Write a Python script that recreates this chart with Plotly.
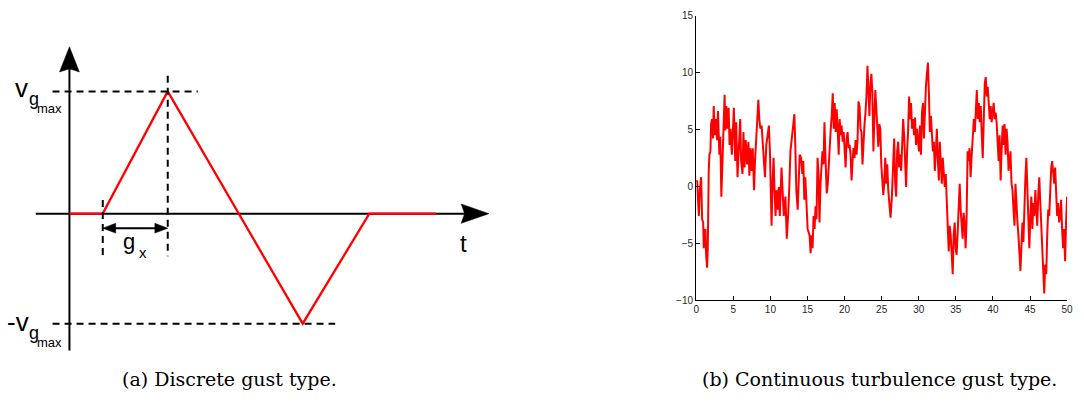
import plotly.graph_objects as go

# ---------------- data ----------------
# (a) discrete gust: time (arbitrary units) and gust velocity (fraction of v_gmax)
gust_t = [0, 1, 2.95, 7, 9, 11]
gust_v = [0, 0, 1, -0.9, 0, 0]

# (b) continuous turbulence
turb_t = [
    0.0, 0.13, 0.27, 0.36, 0.49, 0.58, 0.67, 0.8, 0.94, 1.02, 1.11, 1.25, 1.34, 1.47, 1.56, 1.6,
    1.69, 1.78, 1.92, 2.01, 2.14, 2.27, 2.36, 2.5, 2.67, 2.81, 2.94, 3.12, 3.25, 3.39, 3.57, 3.7,
    3.83, 3.92, 4.06, 4.19, 4.37, 4.5, 4.63, 4.81, 4.95, 5.08, 5.26, 5.39, 5.57, 5.7, 5.93, 6.06,
    6.24, 6.37, 6.51, 6.68, 6.86, 7.04, 7.17, 7.31, 7.49, 7.62, 7.8, 7.93, 8.16, 8.38, 8.51, 8.65,
    8.82, 9.0, 9.14, 9.27, 9.45, 9.63, 9.8, 9.94, 10.07, 10.16, 10.29, 10.43, 10.56, 10.7, 10.83,
    10.96, 11.14, 11.27, 11.5, 11.63, 11.81, 12.03, 12.21, 12.39,
    12.43, 12.57, 12.7, 12.88, 13.06, 13.24, 13.37, 13.5, 13.68, 13.82, 13.95, 14.13, 14.31, 14.44,
    14.57, 14.71, 14.84, 15.02, 15.15, 15.29, 15.42, 15.55, 15.69, 15.82, 15.96, 16.09, 16.22,
    16.36, 16.49, 16.62, 16.76, 16.89, 17.02, 17.16, 17.29, 17.43, 17.6, 17.74, 17.87, 18.01,
    18.14, 18.27, 18.41, 18.54, 18.67, 18.81, 18.94, 19.07, 19.21, 19.34, 19.48, 19.61, 19.74,
    19.88, 20.01, 20.14, 20.28, 20.41, 20.55, 20.68, 20.81, 20.95, 21.08, 21.21, 21.35, 21.48,
    21.61, 21.75, 21.88, 22.02, 22.15, 22.28, 22.42, 22.55, 22.68, 22.82, 22.95, 23.09, 23.22,
    23.35, 23.49, 23.62, 23.75, 23.89, 24.02, 24.15, 24.29, 24.47,
    24.55, 24.69, 24.82, 24.95, 25.09, 25.22, 25.35, 25.49, 25.62, 25.76, 25.89, 26.02, 26.2,
    26.38, 26.56, 26.69, 26.83, 26.96, 27.09, 27.23, 27.36, 27.49, 27.63, 27.76, 27.9, 28.03,
    28.16, 28.3, 28.43, 28.56, 28.7, 28.83, 28.96, 29.1, 29.23, 29.37, 29.5, 29.63, 29.77, 29.9,
    30.03, 30.17, 30.3, 30.44, 30.57, 30.7, 30.84, 30.97, 31.1, 31.24, 31.37, 31.5, 31.64, 31.77,
    31.91, 32.04, 32.17, 32.31, 32.44, 32.57, 32.71, 32.84, 32.98, 33.11, 33.24, 33.38, 33.51,
    33.64, 33.78, 33.91, 34.04, 34.18, 34.31, 34.45, 34.58, 34.71, 34.85, 34.98, 35.11, 35.25,
    35.38, 35.52, 35.65, 35.78, 35.92, 36.05, 36.18, 36.32, 36.45, 36.59, 36.72, 36.85, 36.99,
    37.12, 37.25,
    37.43, 37.56, 37.7, 37.83, 37.96, 38.1, 38.23, 38.36, 38.5, 38.63, 38.77, 38.9, 39.03, 39.17,
    39.3, 39.43, 39.57, 39.7, 39.83, 39.97, 40.1, 40.24, 40.37, 40.5, 40.64, 40.77, 40.9, 41.04,
    41.17, 41.31, 41.44, 41.57, 41.71, 41.84, 41.97, 42.11, 42.24, 42.37, 42.51, 42.64, 42.78,
    42.91, 43.04, 43.18, 43.31, 43.44, 43.58, 43.71, 43.85, 43.98, 44.11, 44.25, 44.38, 44.51,
    44.65, 44.78, 44.91, 45.05, 45.18, 45.32, 45.45, 45.58, 45.72, 45.85, 45.98, 46.12, 46.25,
    46.39, 46.52, 46.65, 46.79, 46.92, 47.05, 47.19, 47.32, 47.46, 47.59, 47.72, 47.86, 47.99,
    48.12, 48.26, 48.39, 48.53, 48.66, 48.79, 48.93, 49.06, 49.19, 49.33, 49.46, 49.59, 49.73,
    49.86, 50.0,
]
turb_v = [
    0.37, 0.51, -1.48, -2.61, -0.34, 0.65, 0.8, -2.9, -3.18, -5.45, -4.32, -3.75, -6.02, -7.16, -5.45, -2.05,
    1.36, 2.78, 3.07, 5.48, 5.91, 4.2, 7.05, 4.49, 5.91, 4.06, 6.62, 2.78, 4.35, -0.91, 3.07, 4.49,
    8.04, 4.91, 7.05, 5.06, 6.9, 3.64, 5.06, 2.78, 4.49, 6.9, 2.22, 5.63, 0.8, 3.35, 5.91, 2.22,
    1.08, 4.77, 1.65, 4.06, 1.93, 3.92, 0.94, 3.35, 1.36, 3.35, -0.34, 2.22, 5.06, 7.61, 5.91, 5.06,
    5.34, 3.07, 2.22, 0.8, 3.64, 4.49, 5.34, 3.07, 0.23, -3.47, 0.23, 2.5, -0.34, -2.61, -0.34,
    -2.05, -0.06, -2.61, 1.65, -0.06, -2.61, -0.91, -4.6, -2.61,
    -1.48, 0.23, 3.07, 4.2, 5.06, 6.34, 3.35, -0.34, -2.05, 0.8, 2.78, 2.5, 1.08, 2.22,
    -1.19, 0.8, -1.76, -3.75, -4.03, -4.32, -5.88, -4.32, -5.45, -2.61, -3.75, -1.76, -2.9,
    2.5, 1.08, -3.18, 0.23, 1.36, 3.07, 1.93, 5.63, 2.5, -0.63, 0.23, 1.93, 4.2,
    5.06, 6.19, 8.18, 5.06, 7.33, 4.77, 6.76, 5.06, 2.78, 5.91, 4.49, 5.34, 3.92,
    4.77, 3.35, 1.65, 4.2, 4.77, 3.35, 3.64, 2.78, 0.51, 2.22, 3.35, 2.5, 4.06,
    2.78, 3.92, 7.47, 7.05, 5.06, 4.77, 1.93, 4.2, 5.34, 6.48, 7.9, 10.6, 7.61,
    6.19, 9.03, 9.89, 8.18, 3.07, 5.91, 8.47, 6.76, 4.49,
    3.49, 5.48, 5.06, 1.93, 0.8, -0.77, 0.23, 2.5, 0.23, 1.93, -0.34, -1.19, -2.76,
    -0.91, 3.07, 4.2, 0.23, -0.91, 3.07, 3.92, 1.65, 2.78, 1.36, 4.77, 5.91, 4.49,
    2.22, -0.06, 3.07, 4.77, 7.9, 5.91, 7.33, 5.06, 5.91, 4.49, 6.05, 3.64, 5.06, 3.92,
    3.07, 5.34, 2.78, 6.48, 7.33, 4.2, 7.61, 8.75, 9.89, 10.88, 8.18, 4.77, 6.19, 4.49,
    3.07, 3.92, 1.36, 3.07, 5.06, 2.5, 0.51, 3.92, 1.65, 0.23, 2.5, 1.36, -0.06,
    1.08, -1.76, -3.75, -5.74, -3.47, -4.32, -6.02, -7.73, -4.32, -3.18, -5.45, -6.02, -4.03,
    -1.48, 0.23, -2.05, -3.75, -4.6, -2.33, -3.18, -5.45, -2.9, 3.07, 2.22, 3.35, 0.8,
    2.5, 4.2,
    5.91, 4.77, 6.48, 8.47, 5.91, 7.33, 5.63, 7.05, 4.49, 2.5, 5.91, 9.03, 9.6, 7.9,
    8.75, 6.76, 5.91, 7.05, 5.63, 6.48, 7.33, 5.91, 6.48, 5.63, 3.64, 2.22, 4.49, 0.51,
    3.07, 5.34, 3.64, 5.48, 2.78, 5.06, 3.92, 1.36, 2.22, 3.07, 0.23, -0.34, -2.05,
    -3.47, 0.23, -2.05, -3.18, -4.32, -6.59, -7.44, -5.17, -3.18, -4.89, -0.91, 0.8, 2.5,
    -0.34, -3.18, -5.45, -2.61, -0.91, -3.75, -1.48, -2.61, -0.34, -2.05, -3.47, -0.63, 0.8,
    -1.48, -3.75, -6.02, -7.16, -9.43, -6.88, -7.73, -4.32, -2.05, -2.61, -0.34, 1.65, 2.22,
    0.8, 0.23, 1.65, -1.19, -2.61, -1.48, -3.18, -2.61, -1.19, -3.75, -5.45, -3.75, -6.59,
    -3.18, -0.91,
]

x_ticks = [0, 5, 10, 15, 20, 25, 30, 35, 40, 45, 50]
y_ticks = [-10, -5, 0, 5, 10, 15]
caption_a = "(a) Discrete gust type."
caption_b = "(b) Continuous turbulence gust type."

# ---------------- figure ----------------
W, H = 1084, 405
fig = go.Figure()

RED = "#ff0000"
BLACK = "#000000"

# left schematic (axes x2/y2, in schematic units)
fig.add_trace(go.Scatter(x=gust_t, y=gust_v, mode="lines", xaxis="x2", yaxis="y2",
                         line=dict(color=RED, width=2.3), hoverinfo="skip", showlegend=False))

# right turbulence
fig.add_trace(go.Scatter(x=turb_t, y=turb_v, mode="lines", xaxis="x", yaxis="y",
                         line=dict(color=RED, width=2.0), hoverinfo="skip", showlegend=False))

shapes = []
def line_shape(x0, y0, x1, y1, dash="solid", width=2.0, layer="below"):
    shapes.append(dict(type="line", xref="x2", yref="y2", x0=x0, y0=y0, x1=x1, y1=y1,
                       line=dict(color=BLACK, width=width, dash=dash), layer=layer))

def path_shape(pts, layer="above"):
    d = "M " + " L ".join(f"{x},{y}" for x, y in pts) + " Z"
    shapes.append(dict(type="path", xref="x2", yref="y2", path=d,
                       fillcolor=BLACK, line=dict(color=BLACK, width=0.5), layer=layer))

# axis lines of the schematic
line_shape(0, -1.119, 0, 1.19)
line_shape(-1.012, 0, 11.88, 0)
# arrow heads
path_shape([(0, 1.365), (0.298, 1.159), (0, 1.185), (-0.298, 1.159)])
path_shape([(12.589, 0), (11.756, 0.079), (11.86, 0), (11.756, -0.079)])

# dashed guides
dash = "7px,5px"
line_shape(-0.506, 1, 3.85, 1, dash=dash, layer="above")
line_shape(-0.506, -0.9, 7.976, -0.9, dash=dash, layer="above")
line_shape(2.95, 1.127, 2.95, -0.349, dash=dash, layer="above")
line_shape(1, 0.111, 1, -0.349, dash=dash, layer="above")

# g_x double arrow
gy = -0.119
line_shape(1.3, gy, 2.65, gy, layer="above")
path_shape([(1, gy), (1.387, gy + 0.04), (1.387, gy - 0.04)])
path_shape([(2.95, gy), (2.563, gy + 0.04), (2.563, gy - 0.04)])

annotations = []
def txt(x, y, s, size, xanchor="center", yanchor="middle"):
    annotations.append(dict(x=x, y=y, xref="x2", yref="y2", text=s, showarrow=False,
                            xanchor=xanchor, yanchor=yanchor,
                            font=dict(family="Liberation Sans", size=size, color=BLACK)))

txt(11.815, -0.245, "t", 24)
txt(1.8, -0.225, "g", 22)
txt(2.22, -0.32, "x", 15)
txt(-1.44, 1.03, "v", 26)
txt(-1.07, 0.935, "g", 18)
txt(-0.595, 0.86, "max", 13)
txt(-1.55, -0.885, "-v", 26)
txt(-1.07, -0.98, "g", 18)
txt(-0.595, -1.055, "max", 13)

for s, xc in ((caption_a, 228 / W), (caption_b, 884 / W)):
    annotations.append(dict(x=xc, y=1 - 384 / H, xref="paper", yref="paper", text=s,
                            showarrow=False, xanchor="center", yanchor="middle",
                            font=dict(family="DejaVu Serif", size=19, color=BLACK)))

tick_font = dict(family="Liberation Sans", size=10, color="#262626")
fig.update_layout(
    width=W, height=H, margin=dict(l=0, r=0, t=0, b=0),
    paper_bgcolor="white", plot_bgcolor="white", showlegend=False,
    xaxis=dict(domain=[699 / W, 1073 / W], range=[0, 50], tickvals=x_ticks,
               showline=True, linecolor=BLACK, linewidth=1.3, ticks="inside", ticklen=4,
               tickwidth=1, tickcolor=BLACK, showgrid=False, zeroline=False,
               tickfont=tick_font, fixedrange=True, anchor="y"),
    yaxis=dict(domain=[1 - 303 / H, 1 - 10 / H], range=[-10, 15], tickvals=y_ticks,
               showline=True, linecolor=BLACK, linewidth=1.3, ticks="inside", ticklen=4,
               tickwidth=1, tickcolor=BLACK, showgrid=False, zeroline=False,
               tickfont=tick_font, fixedrange=True, anchor="x"),
    xaxis2=dict(domain=[0, 520 / W], range=[-67 / 33.6, (520 - 67) / 33.6], visible=False,
                fixedrange=True, anchor="y2"),
    yaxis2=dict(domain=[1 - 370 / H, 1 - 20 / H], range=[(214 - 370) / 126, (214 - 20) / 126],
                visible=False, fixedrange=True, anchor="x2"),
    shapes=shapes, annotations=annotations,
)

fig.write_html("out.html")
